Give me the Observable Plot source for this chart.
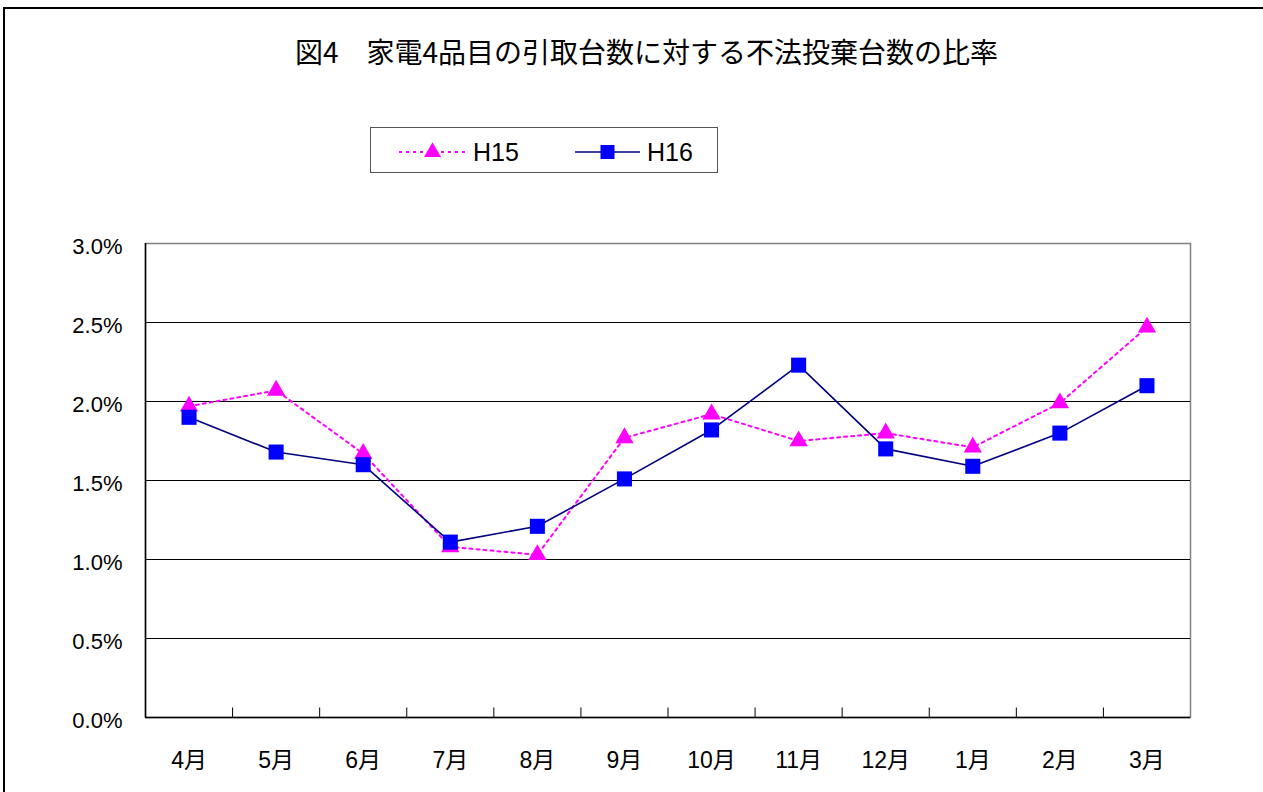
<!DOCTYPE html>
<html>
<head>
<meta charset="utf-8">
<script src="https://cdn.jsdelivr.net/npm/d3@7"></script>
<script src="https://cdn.jsdelivr.net/npm/@observablehq/plot@0.6"></script>
<style>
  html, body { margin: 0; padding: 0; background: #fff; }
  #wrap { position: relative; width: 1263px; height: 792px; overflow: hidden; font-family: "Liberation Sans", "Noto Sans CJK JP", sans-serif; }
  #border { position: absolute; left: 3px; top: 7px; width: 1300px; height: 900px; border: 2px solid #000; box-sizing: border-box; }
  #title { position: absolute; left: 0; width: 1293px; top: 31px; text-align: center; font-size: 28px; line-height: 40px; font-family: "Noto Sans CJK JP", sans-serif; color: #000; }
  #legend { position: absolute; left: 370px; top: 127px; width: 348px; height: 46px; border: 1px solid #555; box-sizing: border-box; background: #fff; }
  #legend svg { position: absolute; left: -1px; top: -1px; }
  #chart { position: absolute; left: 0; top: 0; }
</style>
</head>
<body>
<div id="wrap">
  <div id="chart"></div>
  <div id="border"></div>
  <div id="title"></div>
  <div id="legend"></div>
</div>
<script>
const title = "図4　家電4品目の引取台数に対する不法投棄台数の比率";
const months = ["4月","5月","6月","7月","8月","9月","10月","11月","12月","1月","2月","3月"];
const seriesNames = ["H15", "H16"];
const h15 = [1.97, 2.07, 1.67, 1.08, 1.03, 1.77, 1.92, 1.75, 1.80, 1.71, 1.99, 2.47];
const h16 = [1.90, 1.68, 1.60, 1.11, 1.21, 1.51, 1.82, 2.23, 1.70, 1.59, 1.80, 2.10];
const yTicks = [0, 0.5, 1.0, 1.5, 2.0, 2.5, 3.0];

const colH15 = "#FF00FF";
const colH16Line = "#000080";
const colH16Mark = "#0000FF";

document.getElementById("title").textContent = title;

const data = months.map((m, i) => ({i, month: m, h15: h15[i], h16: h16[i]}));
const boundaries = d3.range(0.5, months.length - 1, 1);
const grid = yTicks.filter(v => v > 0 && v < 3);

const chart = Plot.plot({
  width: 1263,
  height: 792,
  marginTop: 243,
  marginBottom: 75,
  marginLeft: 145,
  marginRight: 73,
  style: {fontFamily: "'Liberation Sans', 'Noto Sans CJK JP', sans-serif", fontSize: "22px", color: "#000", background: "transparent"},
  x: {type: "linear", domain: [-0.5, months.length - 0.5]},
  y: {domain: [0, 3]},
  marks: [
    Plot.frame({stroke: "#808080", strokeWidth: 1.5}),
    Plot.ruleY(grid, {stroke: "#000", strokeWidth: 1}),
    Plot.ruleX([-0.5], {stroke: "#000", strokeWidth: 1.5}),
    Plot.ruleY([0], {stroke: "#000", strokeWidth: 1.5}),
    Plot.ruleX(boundaries, {y1: 0, y2: 0.06, stroke: "#000", strokeWidth: 1}),
    Plot.axisY({ticks: yTicks, tickSize: 0, tickPadding: 23, dy: 3, tickFormat: d => d.toFixed(1) + "%", fontSize: 22, label: null}),
    Plot.axisX({ticks: d3.range(months.length), tickSize: 0, tickPadding: 34, tickFormat: i => months[i], fontSize: 23, label: null}),
    Plot.line(data, {x: "i", y: "h15", stroke: colH15, strokeWidth: 2, strokeDasharray: "3,4"}),
    Plot.line(data, {x: "i", y: "h16", stroke: colH16Line, strokeWidth: 1.6}),
    Plot.dot(data, {x: "i", y: "h15", symbol: "triangle", r: 6.8, fill: colH15, stroke: "none"}),
    Plot.dot(data, {x: "i", y: "h16", symbol: "square", r: 8.5, fill: colH16Mark, stroke: "none"})
  ]
});
document.getElementById("chart").appendChild(chart);

// legend
const leg = d3.select("#legend").append("svg").attr("width", 348).attr("height", 46);
const items = [
  {name: seriesNames[0], x0: 29, x1: 96, color: colH15, dash: "3,4", sym: d3.symbolTriangle, size: 125, fill: colH15, w: 2},
  {name: seriesNames[1], x0: 205, x1: 270, color: colH16Line, dash: null, sym: d3.symbolSquare, size: 196, fill: colH16Mark, w: 1.6}
];
items.forEach(it => {
  leg.append("line").attr("x1", it.x0).attr("x2", it.x1).attr("y1", 25).attr("y2", 25)
    .attr("stroke", it.color).attr("stroke-width", it.w).attr("stroke-dasharray", it.dash);
  leg.append("path").attr("d", d3.symbol(it.sym, it.size)()).attr("transform", `translate(${(it.x0 + it.x1) / 2},25)`).attr("fill", it.fill);
  leg.append("text").attr("x", it.x1 + 7).attr("y", 34).attr("font-size", 25)
    .attr("font-family", "'Liberation Sans', sans-serif").text(it.name);
});
</script>
</body>
</html>
